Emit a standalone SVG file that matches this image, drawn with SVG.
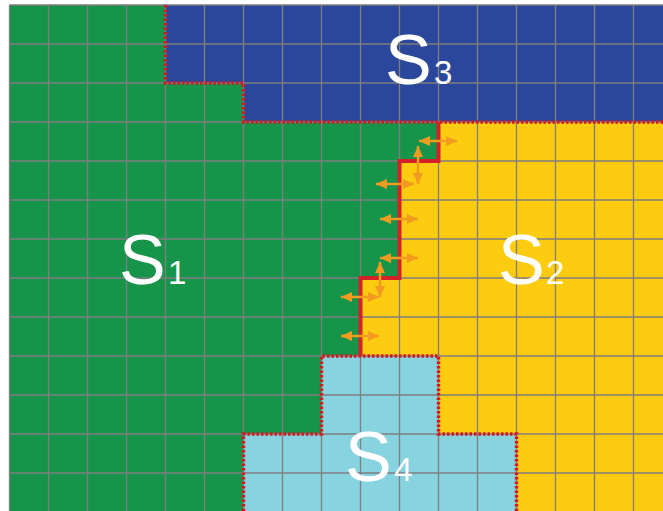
<svg xmlns="http://www.w3.org/2000/svg" width="663" height="511" viewBox="0 0 663 511">
<defs>
<style>
.grid{stroke:#7f7f7f;stroke-width:1.3;fill:none}
.dot{stroke:#d7191f;stroke-width:3.5;stroke-dasharray:2.5 2;fill:none}
.solid{stroke:#d42027;stroke-width:4;fill:none}
.arr{stroke:#f39a21;stroke-width:2.5;marker-start:url(#ah);marker-end:url(#ah)}
.lbl{font-family:"Liberation Sans",Arial,sans-serif;fill:#ffffff}
</style>
<marker id="ah" markerUnits="userSpaceOnUse" markerWidth="12" markerHeight="10" refX="11" refY="5" orient="auto-start-reverse">
<path d="M0,0 L11,5 L0,10 Z" fill="#f39a21"/>
</marker>
</defs>
<rect width="663" height="511" fill="#ffffff"/>
<g id="S1">
<rect x="9.5" y="5" width="654" height="506" fill="#16954a"/>
</g>
<g id="S3">
<path d="M165.5,5 H663 V122 H243.5 V83 H165.5 Z" fill="#2b479b"/>
</g>
<g id="S2">
<path d="M438.5,122 H663 V511 H516.5 V434 H438.5 V356 H360.5 V278 H399.5 V161 H438.5 Z" fill="#fdcb10"/>
</g>
<g id="S4">
<path d="M321.5,356 H438.5 V434 H516.5 V511 H243.5 V434 H321.5 Z" fill="#87d3e0"/>
</g>
<g id="grid" class="grid">
<path d="M9.5,5 V511 M48.5,5 V511 M87.5,5 V511 M126.5,5 V511 M165.5,5 V511 M204.5,5 V511 M243.5,5 V511 M282.5,5 V511 M321.5,5 V511 M360.5,5 V511 M399.5,5 V511 M438.5,5 V511 M477.5,5 V511 M516.5,5 V511 M555.5,5 V511 M594.5,5 V511 M633.5,5 V511"/>
<path d="M9.5,5 H663 M9.5,44 H663 M9.5,83 H663 M9.5,122 H663 M9.5,161 H663 M9.5,200 H663 M9.5,239 H663 M9.5,278 H663 M9.5,317 H663 M9.5,356 H663 M9.5,395 H663 M9.5,434 H663 M9.5,473 H663"/>
</g>
<g id="borders">
<path class="dot" d="M165.5,5 V83 H243.5 V122 H663"/>
<path class="dot" d="M243.5,511 V434 H321.5 V356 H438.5 V434 H516.5 V511"/>
<path class="solid" d="M438.5,122 V161 H399.5 V278 H360.5 V356"/>
</g>
<g id="connectors">
<line class="arr" x1="419" y1="141" x2="457" y2="141"/>
<line class="arr" x1="418" y1="146" x2="418" y2="184"/>
<line class="arr" x1="376" y1="184" x2="414" y2="184"/>
<line class="arr" x1="380" y1="219" x2="418" y2="219"/>
<line class="arr" x1="380" y1="258" x2="418" y2="258"/>
<line class="arr" x1="380" y1="262" x2="380" y2="297"/>
<line class="arr" x1="341" y1="297" x2="379" y2="297"/>
<line class="arr" x1="341" y1="336" x2="379" y2="336"/>
</g>
<g id="labels" class="lbl">
<text x="119" y="284" font-size="70">S<tspan x="168" font-size="33">1</tspan></text>
<text x="385" y="84" font-size="70">S<tspan x="434" font-size="33">3</tspan></text>
<text x="498" y="284" font-size="70">S<tspan x="546" font-size="33">2</tspan></text>
<text x="345" y="481" font-size="70">S<tspan x="394" font-size="33">4</tspan></text>
</g>
</svg>
